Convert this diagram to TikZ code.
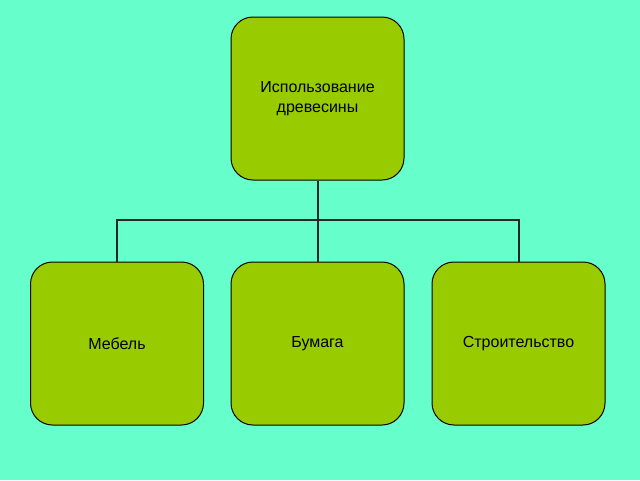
\documentclass[tikz,border=0pt]{standalone}
\usepackage{fontspec}
\setmainfont{Liberation Sans}
\begin{document}
\begin{tikzpicture}[x=1pt,y=-1pt,
  box/.style={draw=black,line width=1pt,fill=boxg,rounded corners=22pt,minimum width=173pt,minimum height=163pt,inner sep=0pt,align=center,font=\fontsize{16}{20}\selectfont},
  conn/.style={line width=2pt,draw=black!85}]
\definecolor{bg}{HTML}{66FFCC}
\definecolor{boxg}{HTML}{99CC00}
\fill[bg] (0,0) rectangle (640,480);
\useasboundingbox (0,0) rectangle (640,480);
\node[box] (top) at (317.5,98.5) {Использование\\древесины};
\node[box] (a) at (117,343.5) {Мебель};
\node[box] (b) at (317.5,343.5) {Бумага};
\node[box] (c) at (518.5,343.5) {Строительство};
\coordinate (j) at (317.5,220);
\draw[conn] (top.south) -- (j);
\draw[conn] (a.north) |- (j) -| (c.north);
\draw[conn] (j) -- (b.north);
\end{tikzpicture}
\end{document}
